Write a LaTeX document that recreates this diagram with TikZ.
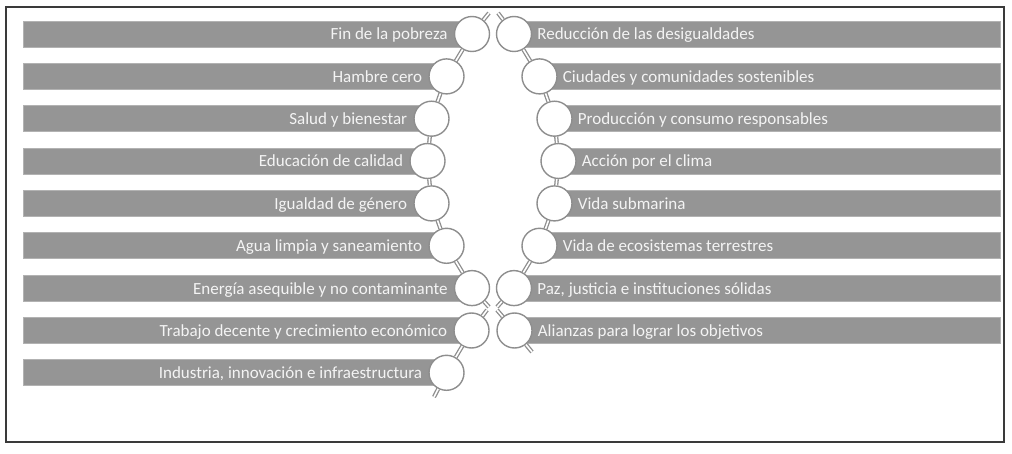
\documentclass[tikz,border=0pt]{standalone}
\usepackage{fontspec}
\setmainfont{Carlito}
\definecolor{barc}{HTML}{959595}
\definecolor{baredge}{HTML}{B2B2B2}
\definecolor{ringc}{HTML}{8E8E8E}
\definecolor{txtc}{HTML}{F4F4F4}
\definecolor{framec}{HTML}{3A3A3A}
\begin{document}
\begin{tikzpicture}[x=1pt,y=1pt,
  bead/.style={circle,draw=ringc,line width=1.4pt,fill=white,inner sep=0pt,minimum size=35pt},
  link/.style={draw=ringc,double=white,double distance=1.6pt,line width=1.3pt},
  bar/.style={fill=barc,draw=baredge,line width=0.8pt},
  lbl/.style={text=txtc,inner sep=0pt,font=\fontsize{17}{20}\selectfont},
  lblL/.style={lbl,anchor=base east},
  lblR/.style={lbl,anchor=base west}]
\useasboundingbox (0,0) rectangle (1012,453);
\draw[framec,line width=1.6pt] (6,11) rectangle (1004,446);
% bead positions
\coordinate (pL1) at (472,419);
\coordinate (pL2) at (446.5,376.6);
\coordinate (pL3) at (431.5,334.3);
\coordinate (pL4) at (427.5,292);
\coordinate (pL5) at (431.5,249.6);
\coordinate (pL6) at (446.5,207.2);
\coordinate (pL7) at (472,164.9);
\coordinate (pL8) at (471.5,122.5);
\coordinate (pL9) at (446.5,80.2);
\coordinate (pR1) at (514,419);
\coordinate (pR2) at (539.5,376.6);
\coordinate (pR3) at (554.5,334.3);
\coordinate (pR4) at (558.5,292);
\coordinate (pR5) at (554.5,249.6);
\coordinate (pR6) at (539.5,207.2);
\coordinate (pR7) at (514,164.9);
\coordinate (pR8) at (514.5,122.5);
% bars
\foreach \i/\y in {1/419,2/376.6,3/334.3,4/292,5/249.6,6/207.2,7/164.9,8/122.5,9/80.2}{
  \path[bar] (23,\y-13) rectangle (pL\i |- 0,\y+13);
}
\foreach \i/\y in {1/419,2/376.6,3/334.3,4/292,5/249.6,6/207.2,7/164.9,8/122.5}{
  \path[bar] (pR\i |- 0,\y-13) rectangle (1000,\y+13);
}
% beads
\foreach \i in {1,...,9}{ \node[bead] (L\i) at (pL\i) {}; }
\foreach \i in {1,...,8}{ \node[bead] (R\i) at (pR\i) {}; }
% stub ends
\coordinate (sL1) at (489,440);
\coordinate (sR1) at (498,440);
\coordinate (sL7) at (489,146);
\coordinate (sL8) at (487,143);
\coordinate (sR7) at (497,146);
\coordinate (sR8) at (497,143);
\coordinate (sR8b) at (532,101);
\coordinate (sL9) at (434,56);
% links
\draw[link] (L1) -- (L2);
\draw[link] (L2) -- (L3);
\draw[link] (L3) -- (L4);
\draw[link] (L4) -- (L5);
\draw[link] (L5) -- (L6);
\draw[link] (L6) -- (L7);
\draw[link] (L8) -- (L9);
\draw[link] (R1) -- (R2);
\draw[link] (R2) -- (R3);
\draw[link] (R3) -- (R4);
\draw[link] (R4) -- (R5);
\draw[link] (R5) -- (R6);
\draw[link] (R6) -- (R7);
\draw[link] (L1) -- (sL1);
\draw[link] (R1) -- (sR1);
\draw[link] (L7) -- (sL7);
\draw[link] (L8) -- (sL8);
\draw[link] (R7) -- (sR7);
\draw[link] (R8) -- (sR8);
\draw[link] (R8) -- (sR8b);
\draw[link] (L9) -- (sL9);
% labels
\node[lblL] (tL1) at ([xshift=-6pt,yshift=-6pt]L1.west) {Fin de la pobreza};
\node[lblL] (tL2) at ([xshift=-6pt,yshift=-6pt]L2.west) {Hambre cero};
\node[lblL] (tL3) at ([xshift=-6pt,yshift=-6pt]L3.west) {Salud y bienestar};
\node[lblL] (tL4) at ([xshift=-6pt,yshift=-6pt]L4.west) {Educación de calidad};
\node[lblL] (tL5) at ([xshift=-6pt,yshift=-6pt]L5.west) {Igualdad de género};
\node[lblL] (tL6) at ([xshift=-6pt,yshift=-6pt]L6.west) {Agua limpia y saneamiento};
\node[lblL] (tL7) at ([xshift=-6pt,yshift=-6pt]L7.west) {Energía asequible y no contaminante};
\node[lblL] (tL8) at ([xshift=-6pt,yshift=-6pt]L8.west) {Trabajo decente y crecimiento económico};
\node[lblL] (tL9) at ([xshift=-6pt,yshift=-6pt]L9.west) {Industria, innovación e infraestructura};
\node[lblR] (tR1) at ([xshift=5pt,yshift=-6pt]R1.east) {Reducción de las desigualdades};
\node[lblR] (tR2) at ([xshift=5pt,yshift=-6pt]R2.east) {Ciudades y comunidades sostenibles};
\node[lblR] (tR3) at ([xshift=5pt,yshift=-6pt]R3.east) {Producción y consumo responsables};
\node[lblR] (tR4) at ([xshift=5pt,yshift=-6pt]R4.east) {Acción por el clima};
\node[lblR] (tR5) at ([xshift=5pt,yshift=-6pt]R5.east) {Vida submarina};
\node[lblR] (tR6) at ([xshift=5pt,yshift=-6pt]R6.east) {Vida de ecosistemas terrestres};
\node[lblR] (tR7) at ([xshift=5pt,yshift=-6pt]R7.east) {Paz, justicia e instituciones sólidas};
\node[lblR] (tR8) at ([xshift=5pt,yshift=-6pt]R8.east) {Alianzas para lograr los objetivos};
\end{tikzpicture}
\end{document}
